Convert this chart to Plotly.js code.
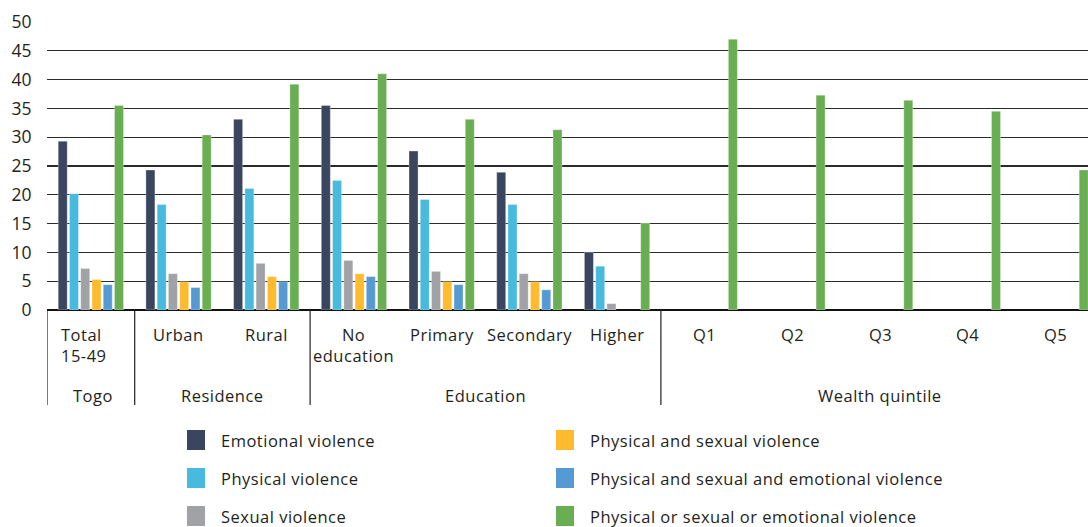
<!DOCTYPE html>
<html>
<head>
<meta charset="utf-8">
<script src="https://cdn.plot.ly/plotly-3.0.1.min.js"></script>
<style>
html,body{margin:0;padding:0;background:#fff;}
#chart{width:1088px;height:527px;}
.annotation-text{letter-spacing:0.5px;}
</style>
</head>
<body>
<div id="chart"></div>
<script>
// Categories (x axis)
const categories = ["Total 15-49","Urban","Rural","No education","Primary","Secondary","Higher","Q1","Q2","Q3","Q4","Q5"];
const categoryLabels = ["Total<br>15-49","Urban","Rural","No<br>education","Primary","Secondary","Higher","Q1","Q2","Q3","Q4","Q5"];
// Group labels and their spans (first and last category index)
const groupNames = ["Togo","Residence","Education","Wealth quintile"];
const groupStart = [0,1,3,7];
const groupEnd = [0,2,6,11];

// Series
const seriesNames = [
  "Emotional violence",
  "Physical violence",
  "Sexual violence",
  "Physical and sexual violence",
  "Physical and sexual and emotional violence",
  "Physical or sexual or emotional violence"
];
const emotional = [29.3,24.3,33.1,35.5,27.6,23.9,10.0,null,null,null,null,null];
const physical  = [20.2,18.3,21.1,22.5,19.2,18.3,7.6,null,null,null,null,null];
const sexual    = [7.2,6.3,8.1,8.6,6.7,6.3,1.1,null,null,null,null,null];
const physSex   = [5.3,4.9,5.8,6.3,4.9,4.9,null,null,null,null,null,null];
const physSexEmo= [4.4,3.9,4.9,5.8,4.4,3.5,null,null,null,null,null,null];
const anyViol   = [35.5,30.4,39.2,41.0,33.1,31.3,15.1,47.0,37.3,36.4,34.5,24.3];
const yTicks = [0,5,10,15,20,25,30,35,40,45,50];

const seriesValues = [emotional, physical, sexual, physSex, physSexEmo, anyViol];
const colors = ["#3A4660","#48BADD","#A1A2A6","#FDBB2D","#569AD3","#6AAE53"];

const FONT = "'Open Sans', 'Noto Sans', sans-serif";
const FS = 16.5;
const TXT = "#231F20";

const traces = seriesValues.map((vals, i) => ({
  type: "bar",
  name: seriesNames[i],
  x: categories,
  y: vals,
  marker: {color: colors[i], line: {color: "rgba(255,255,255,0.6)", width: 0.5}},
  hoverinfo: "x+y+name",
  showlegend: false
}));

// geometry helpers (pixels -> paper)
const L = 47, R = 0, T = 22, B = 217, W = 1088, H = 527;
const plotW = W - L - R, plotH = H - T - B;
const py = p => (H - B - p) / plotH;
const px = p => (p - L) / plotW;

const annotations = [];
const shapes = [];

// category labels
categories.forEach((c, i) => {
  annotations.push({
    x: c, xref: "x", y: py(321), yref: "paper", yanchor: "top", xanchor: "center",
    xshift: i === 0 ? -7 : 0,
    text: categoryLabels[i], showarrow: false, align: i === 0 ? "left" : "center",
    font: {family: FONT, size: FS, color: TXT}
  });
});
// group labels
groupNames.forEach((g, i) => {
  annotations.push({
    x: (groupStart[i] + groupEnd[i]) / 2, xref: "x", y: py(395), yref: "paper",
    yanchor: "middle", xanchor: "center", xshift: i === 0 ? 2 : 0,
    text: g, showarrow: false, font: {family: FONT, size: FS, color: TXT}
  });
});
// separators
groupStart.forEach(s => {
  shapes.push({type: "line", xref: "x", yref: "paper", x0: s - 0.5, x1: s - 0.5,
    y0: 0, y1: py(405), line: {color: "#231F20", width: 1.2}});
});

// manual legend (two columns, three rows)
const legendCols = [187, 556];
const legendRows = [440, 478, 516];
seriesNames.forEach((n, i) => {
  const col = Math.floor(i / 3), row = i % 3;
  const cx = legendCols[col], cy = legendRows[row];
  shapes.push({type: "rect", xref: "paper", yref: "paper",
    x0: px(cx), x1: px(cx + 18), y0: py(cy - 10), y1: py(cy + 10),
    fillcolor: colors[i], line: {width: 0}});
  annotations.push({x: px(cx + 32), xref: "paper", y: py(cy), yref: "paper",
    xanchor: "left", yanchor: "middle", text: n, showarrow: false,
    font: {family: FONT, size: FS, color: TXT}});
});

const layout = {
  width: W, height: H,
  margin: {l: L, r: R, t: T, b: B, pad: 0},
  paper_bgcolor: "#fff", plot_bgcolor: "#fff",
  barmode: "group", bargap: 0.23, bargroupgap: 0.2,
  font: {family: FONT, size: FS, color: TXT},
  xaxis: {type: "category", range: [-0.5, 11.37], showticklabels: false, ticks: "",
    showgrid: false, zeroline: false, showline: false, fixedrange: true},
  yaxis: {range: [0, 50], tickvals: yTicks, ticktext: yTicks.map(String),
    showgrid: true, gridcolor: "#2b2b2b", gridwidth: 1.2,
    zeroline: true, zerolinecolor: "#111", zerolinewidth: 1.6,
    ticks: "outside", ticklen: 11, tickcolor: "rgba(0,0,0,0)",
    tickfont: {family: FONT, size: 17.5, color: TXT}, showline: false, fixedrange: true},
  annotations: annotations,
  shapes: shapes,
  showlegend: false
};

Plotly.newPlot("chart", traces, layout, {displayModeBar: false, staticPlot: true});
</script>
</body>
</html>
